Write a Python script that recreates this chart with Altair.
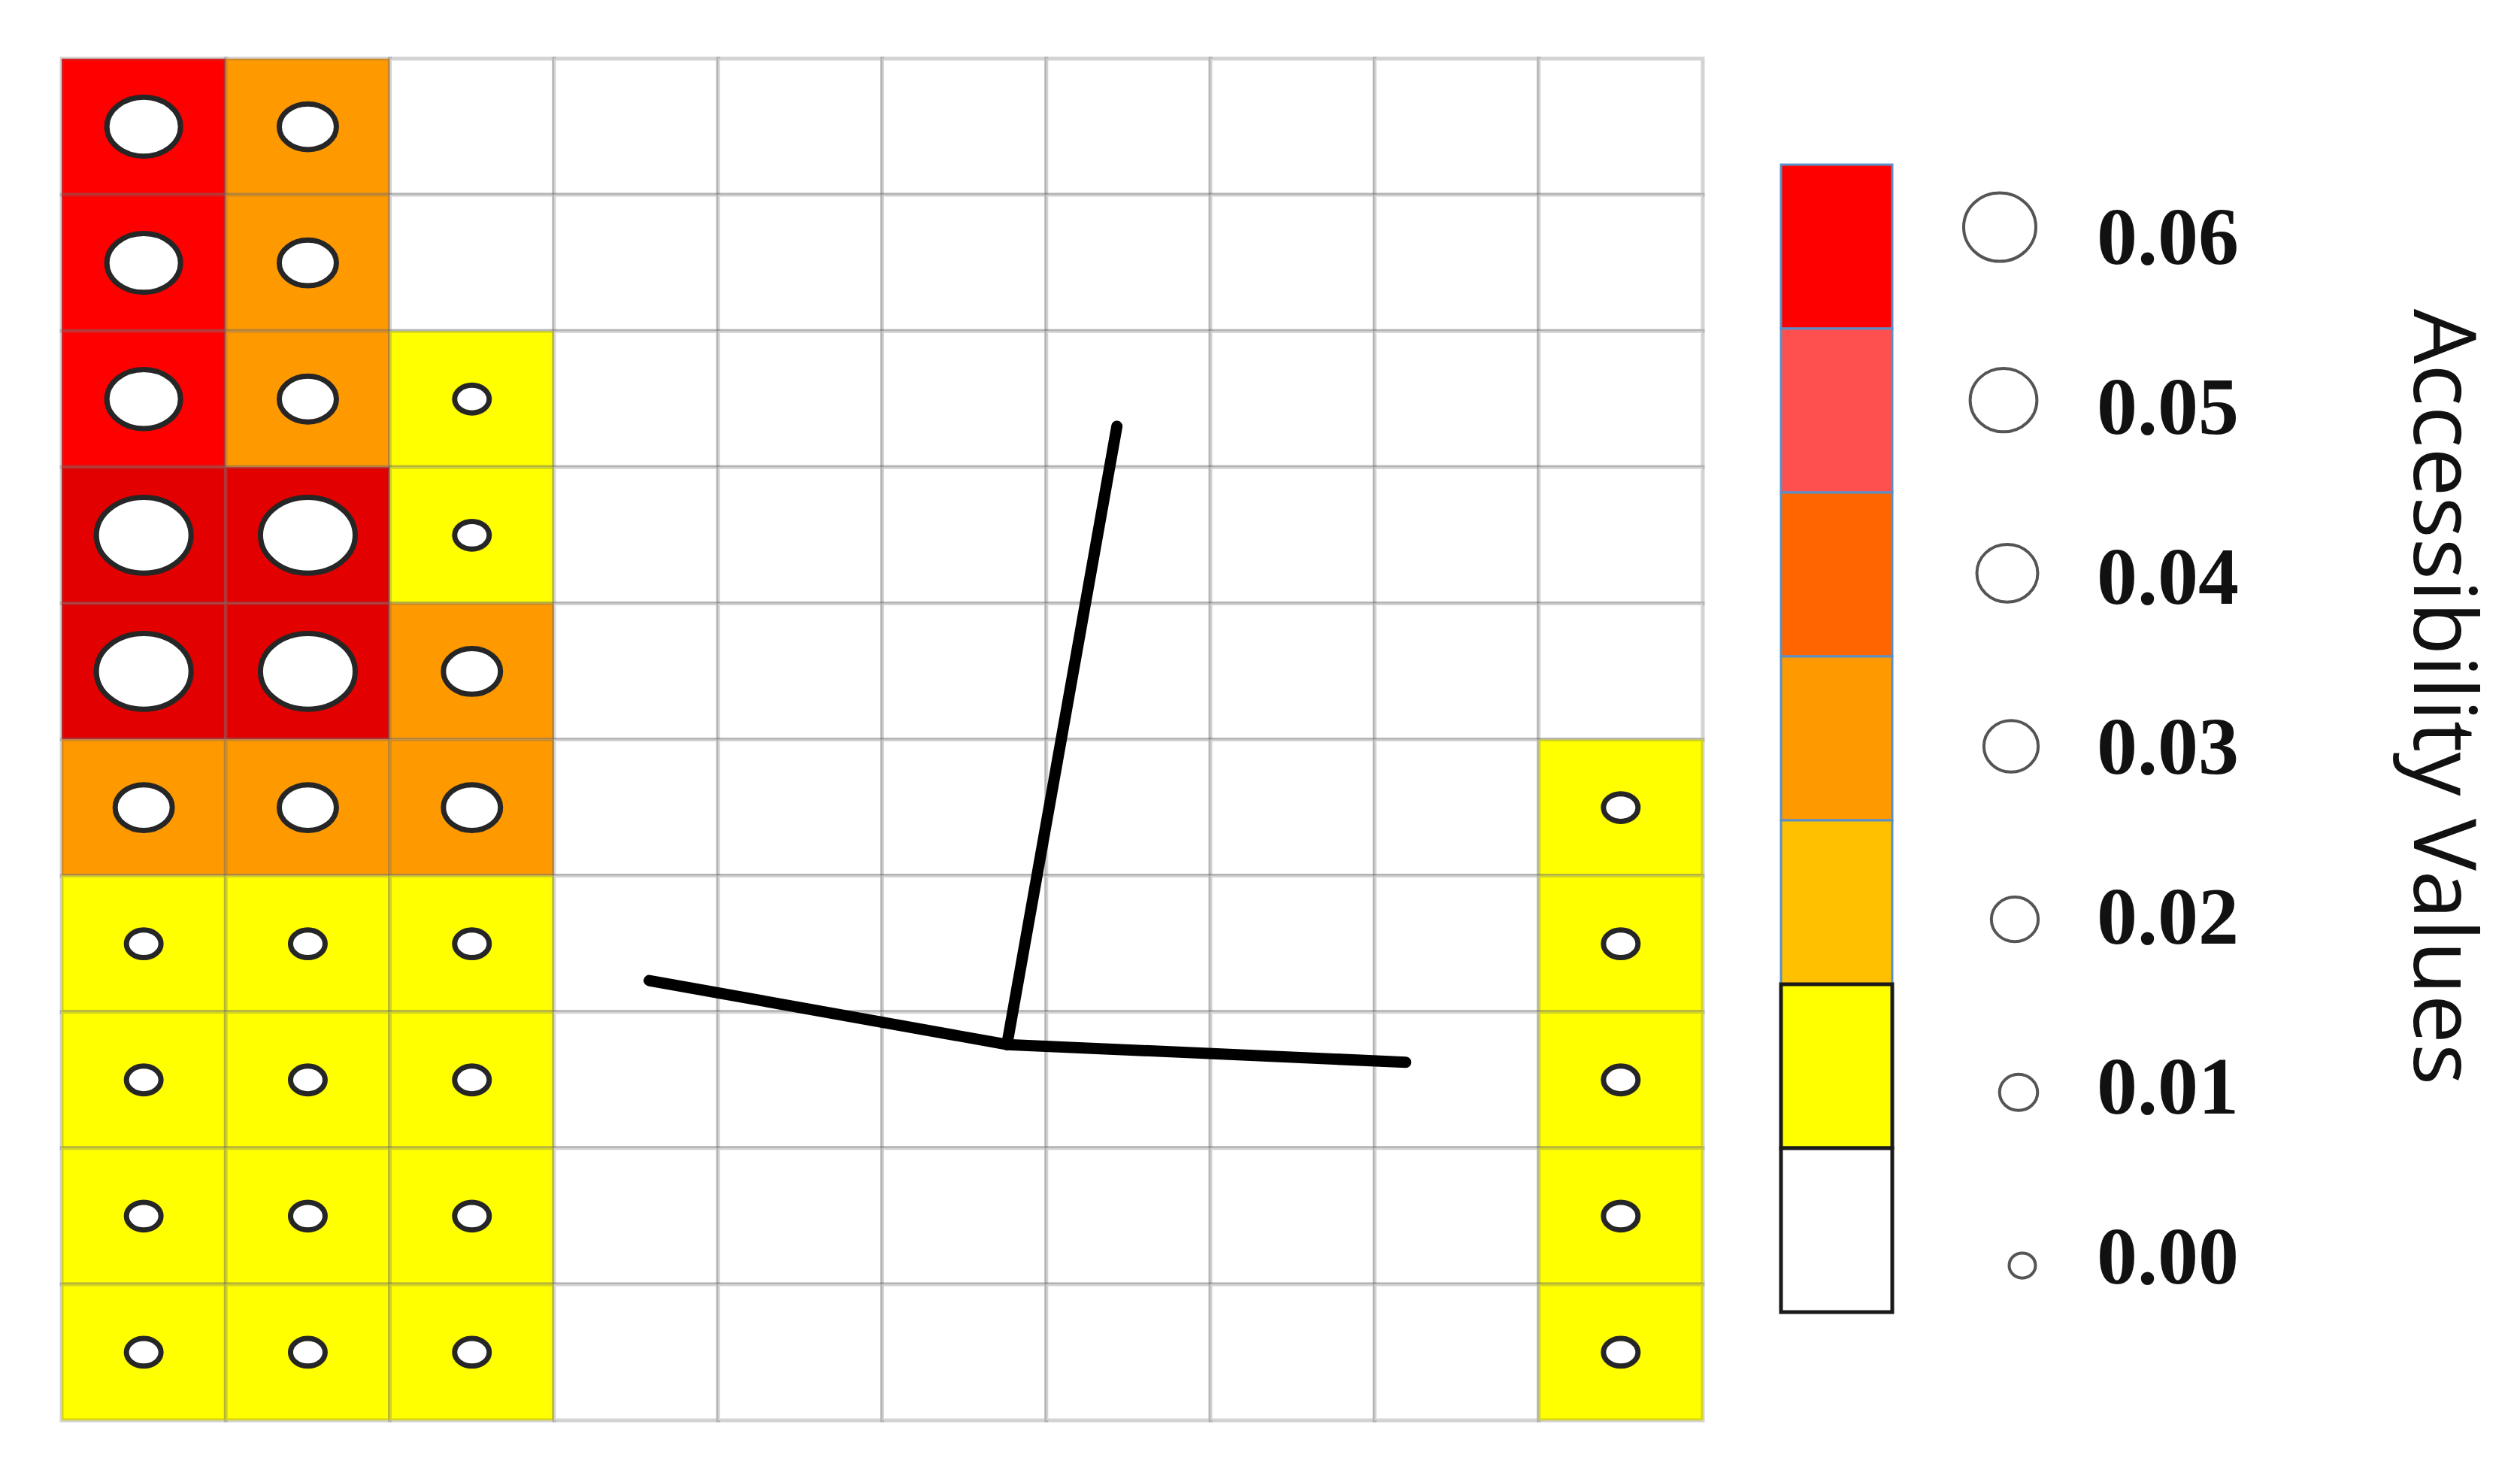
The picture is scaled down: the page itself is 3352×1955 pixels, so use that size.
import altair as alt
import pandas as pd

# ---------------- data ----------------
n_rows = 10
n_cols = 10
grid_values = [
    [0.06, 0.03, 0.00, 0.00, 0.00, 0.00, 0.00, 0.00, 0.00, 0.00],
    [0.06, 0.03, 0.00, 0.00, 0.00, 0.00, 0.00, 0.00, 0.00, 0.00],
    [0.06, 0.03, 0.01, 0.00, 0.00, 0.00, 0.00, 0.00, 0.00, 0.00],
    [0.07, 0.07, 0.01, 0.00, 0.00, 0.00, 0.00, 0.00, 0.00, 0.00],
    [0.07, 0.07, 0.03, 0.00, 0.00, 0.00, 0.00, 0.00, 0.00, 0.00],
    [0.03, 0.03, 0.03, 0.00, 0.00, 0.00, 0.00, 0.00, 0.00, 0.01],
    [0.01, 0.01, 0.01, 0.00, 0.00, 0.00, 0.00, 0.00, 0.00, 0.01],
    [0.01, 0.01, 0.01, 0.00, 0.00, 0.00, 0.00, 0.00, 0.00, 0.01],
    [0.01, 0.01, 0.01, 0.00, 0.00, 0.00, 0.00, 0.00, 0.00, 0.01],
    [0.01, 0.01, 0.01, 0.00, 0.00, 0.00, 0.00, 0.00, 0.00, 0.01],
]
cell_cats = ["0.07", "0.06", "0.05", "0.04", "0.03", "0.02", "0.01", "0.00"]
cell_colors = ["#E20000", "#FF0000", "#FF5050", "#FF6600", "#FF9900", "#FFC000", "#FFFF00", "#FFFFFF"]

# road polyline (grid units): junction and three end points
road_junction = (5.76, 7.24)
road_end_x = [3.58, 8.19, 6.43]
road_end_y = [6.77, 7.37, 2.70]

legend_values = [0.06, 0.05, 0.04, 0.03, 0.02, 0.01, 0.00]
legend_labels = ["0.06", "0.05", "0.04", "0.03", "0.02", "0.01", "0.00"]
legend_colors = ["#FF0000", "#FF5050", "#FF6600", "#FF9900", "#FFC000", "#FFFF00", "#FFFFFF"]
legend_borders = ["#5B8FC7", "#5B8FC7", "#5B8FC7", "#5B8FC7", "#5B8FC7", "#1A1A1A", "#1A1A1A"]
legend_border_w = [3, 3, 3, 3, 3, 5, 5]
legend_title = "Accessibility Values"

# ---------------- tables ----------------
cells = pd.DataFrame(
    [
        {"col": c, "row": r, "col2": c + 1, "row2": r + 1,
         "cx": c + 0.5, "cy": r + 0.5,
         "value": grid_values[r][c], "cat": f"{grid_values[r][c]:.2f}"}
        for r in range(n_rows) for c in range(n_cols)
    ]
)
road = pd.DataFrame({
    "x": [road_junction[0]] * len(road_end_x),
    "y": [road_junction[1]] * len(road_end_y),
    "xe": road_end_x,
    "ye": road_end_y,
})
leg = pd.DataFrame({
    "li": list(range(len(legend_values))),
    "li2": [i + 1 for i in range(len(legend_values))],
    "v": legend_values,
    "label": legend_labels,
    "fillc": legend_colors,
    "strokec": legend_borders,
    "sw": legend_border_w,
})
title_df = pd.DataFrame({"t": [legend_title]})

GRID_W, GRID_H = 2183, 1811
xs = alt.Scale(domain=[0, n_cols], range=[0, GRID_W])
ys = alt.Scale(domain=[0, n_rows], range=[0, GRID_H])

ELLIPSE = ("M -1 0 C -1 -0.442 -0.5523 -0.8 0 -0.8 C 0.5523 -0.8 1 -0.442 1 0 "
           "C 1 0.442 0.5523 0.8 0 0.8 C -0.5523 0.8 -1 0.442 -1 0 Z")
ROUND = ("M -1 0 C -1 -0.525 -0.5523 -0.95 0 -0.95 C 0.5523 -0.95 1 -0.525 1 0 "
         "C 1 0.525 0.5523 0.95 0 0.95 C -0.5523 0.95 -1 0.525 -1 0 Z")

rects = alt.Chart(cells).mark_rect(stroke="#6E6E6E", strokeOpacity=0.3, strokeWidth=5).encode(
    x=alt.X("col:Q", scale=xs, axis=None),
    x2="col2:Q",
    y=alt.Y("row:Q", scale=ys, axis=None),
    y2="row2:Q",
    color=alt.Color("cat:N", scale=alt.Scale(domain=cell_cats, range=cell_colors), legend=None),
)

ellipses = alt.Chart(cells).transform_filter("datum.value > 0").mark_point(
    shape=ELLIPSE, fill="white", stroke="#262626", strokeWidth=7, opacity=1, fillOpacity=1
).encode(
    x=alt.X("cx:Q", scale=xs, axis=None),
    y=alt.Y("cy:Q", scale=ys, axis=None),
    size=alt.Size("value:Q", scale=alt.Scale(domain=[0.01, 0.03, 0.06, 0.07],
                                             range=[2116, 5776, 9604, 15876]), legend=None),
)

roads = alt.Chart(road).mark_rule(color="black", strokeWidth=15, strokeCap="round").encode(
    x=alt.X("x:Q", scale=xs, axis=None),
    y=alt.Y("y:Q", scale=ys, axis=None),
    x2="xe:Q",
    y2="ye:Q",
)

leg_boxes = alt.Chart(leg).mark_rect().encode(
    x=alt.value(2287),
    x2=alt.value(2435),
    y=alt.Y("li:Q", scale=alt.Scale(domain=[0, 7], range=[141, 1667]), axis=None),
    y2="li2:Q",
    fill=alt.Fill("fillc:N", scale=None),
    stroke=alt.Stroke("strokec:N", scale=None),
    strokeWidth=alt.StrokeWidth("sw:Q", scale=None),
)

leg_circles = alt.Chart(leg).mark_point(
    shape=ROUND, fill="white", stroke="#555555", strokeWidth=4, opacity=1, fillOpacity=1
).encode(
    x=alt.X("li:Q", scale=alt.Scale(domain=[0, 6], range=[2578, 2608]), axis=None),
    y=alt.Y("li:Q", scale=alt.Scale(domain=[0, 6], range=[224, 1605]), axis=None),
    size=alt.Size("v:Q", scale=alt.Scale(domain=[0, 0.06], range=[1225, 9216]), legend=None),
)

leg_labels = alt.Chart(leg).mark_text(
    align="left", baseline="middle", font="Liberation Serif", fontWeight="bold",
    fontSize=108, color="#111111"
).encode(
    x=alt.value(2707),
    y=alt.Y("li:Q", scale=alt.Scale(domain=[0, 6], range=[241, 1597]), axis=None),
    text="label:N",
)

leg_title = alt.Chart(title_df).mark_text(
    angle=90, align="center", baseline="middle", font="Open Sans",
    fontSize=116, color="#111111"
).encode(
    x=alt.value(3164),
    y=alt.value(849),
    text="t:N",
)

chart = alt.layer(
    rects, ellipses, roads, leg_boxes, leg_circles, leg_labels, leg_title
).resolve_scale(
    x="independent", y="independent", size="independent", color="independent"
).properties(
    width=3230, height=GRID_H,
    padding={"left": 71, "top": 67, "right": 30, "bottom": 5},
    background="white",
).configure_view(stroke=None)

chart.save("out.html", embed_options={"renderer": "svg", "actions": False})
